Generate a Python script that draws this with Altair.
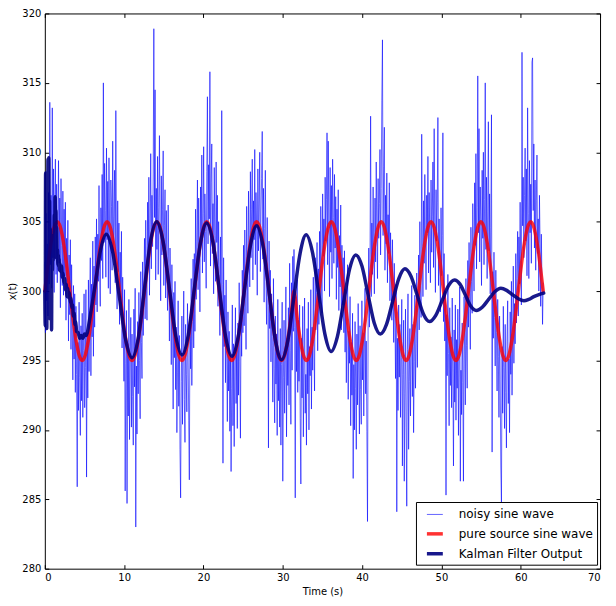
import altair as alt
import numpy as np
import pandas as pd

SERIES = ["noisy sine wave", "pure source sine wave", "Kalman Filter Output"]
X_TICKS = [0, 10, 20, 30, 40, 50, 60, 70]
Y_TICKS = [280, 285, 290, 295, 300, 305, 310, 315, 320]

# noisy samples, evenly spaced over 0 .. 20*pi
noisy_y = [
    302.1, 297.0, 305.6, 299.3, 303.4, 298.2, 307.1, 300.5, 313.6, 301.9,
    306.9, 300.2, 313.2, 302.4, 308.8, 299.9, 306.3, 309.5, 301.2, 307.7,
    300.6, 304.8, 309.4, 302.0, 306.7, 298.8, 308.1, 303.3, 300.4, 307.2,
    299.7, 305.9, 301.1, 306.4, 297.9, 303.8, 300.2, 305.1, 296.4, 302.6,
    298.3, 303.7, 295.8, 301.9, 297.2, 293.6, 300.4, 295.1, 299.8, 292.7,
    298.9, 294.0, 285.9, 296.3, 291.4, 299.2, 293.8, 289.6, 297.5, 292.1,
    298.4, 290.9, 295.7, 299.8, 291.6, 294.5, 300.1, 286.6, 297.0, 292.3,
    300.8, 294.2, 298.6, 302.4, 293.9, 300.5, 296.7, 303.6, 295.3, 301.8,
    297.4, 303.9, 299.0, 305.2, 298.5, 304.1, 300.7, 307.6, 301.3, 298.9,
    306.0, 302.2, 308.4, 300.9, 315.0, 303.5, 309.2, 305.8, 301.0, 310.3,
    303.7, 307.9, 300.2, 309.6, 304.4, 299.8, 308.0, 306.1, 301.5, 310.8,
    302.9, 305.4, 308.7, 300.6, 313.0, 303.1, 298.7, 306.5, 301.4, 304.9,
    297.6, 302.8, 299.1, 304.3, 295.9, 301.0, 297.3, 293.5, 300.1, 285.6,
    294.8, 298.6, 284.7, 296.2, 291.0, 299.4, 289.3, 295.6, 298.1, 290.2,
    296.9, 292.4, 288.9, 298.7, 293.1, 300.2, 283.0, 294.6, 289.7, 297.8,
    292.6, 299.9, 295.0, 290.8, 301.4, 296.3, 293.7, 302.1, 296.8, 300.3,
    303.8, 298.0, 305.1, 300.6, 297.9, 306.4, 302.5, 308.2, 299.7, 304.8,
    309.9, 301.6, 306.9, 303.2, 308.5, 318.9, 305.3, 314.5, 300.8, 307.4,
    303.0, 309.7, 301.2, 306.0, 311.2, 304.1, 299.3, 308.3, 302.6, 305.9,
    310.1, 300.4, 304.7, 307.3, 299.5, 305.8, 302.2, 298.6, 306.2, 301.7,
    296.4, 303.1, 299.6, 294.7, 301.9, 297.8, 291.5, 299.9, 295.2, 300.7,
    292.9, 297.4, 289.8, 294.1, 299.3, 291.7, 296.8, 288.6, 285.1, 293.5,
    298.2, 290.4, 295.3, 300.0, 292.2, 289.1, 297.6, 294.0, 291.3, 299.1,
    295.6, 290.7, 286.4, 298.0, 294.4, 300.9, 293.2, 297.8, 302.3, 295.9,
    302.7, 297.1, 305.9, 299.4, 303.6, 308.0, 300.1, 306.7, 302.8, 298.5,
    307.5, 303.9, 309.8, 301.3, 305.6, 310.4, 302.1, 307.0, 304.3, 300.2,
    308.6, 314.0, 303.4, 309.1, 305.2, 315.8, 301.8, 307.8, 310.6, 302.7,
    306.3, 299.8, 308.9, 304.0, 300.7, 309.3, 303.5, 306.9, 298.9, 305.0,
    301.2, 296.8, 303.9, 298.3, 313.0, 300.5, 287.6, 302.4, 296.0, 299.7,
    293.4, 300.8, 295.7, 290.6, 298.5, 292.8, 297.1, 289.9, 295.4, 287.0,
    293.0, 299.0, 290.3, 296.2, 288.8, 294.6, 298.8, 291.9, 295.8, 290.1,
    297.7, 292.5, 300.6, 294.9, 289.4, 298.1, 295.3, 301.5, 297.0, 303.3,
    297.5, 304.4, 300.9, 295.8, 306.1, 301.7, 298.4, 307.2, 303.0, 300.3,
    308.6, 302.4, 305.9, 309.5, 300.8, 306.5, 303.7, 310.2, 301.9, 307.1,
    304.6, 299.7, 308.8, 302.9, 306.2, 310.0, 301.4, 305.7, 308.1, 311.5,
    302.3, 307.4, 299.2, 304.5, 308.7, 301.0, 297.6, 305.3, 300.5, 288.7,
    303.6, 297.3, 301.5, 294.9, 299.8, 296.1, 292.0, 300.9, 294.4, 290.5,
    298.2, 293.3, 296.9, 289.6, 299.4, 292.1, 295.5, 290.2, 297.3, 288.9,
    294.7, 299.2, 286.3, 293.8, 297.9, 291.2, 295.0, 300.3, 289.5, 296.6,
    293.2, 298.8, 291.8, 302.0, 295.7, 290.4, 300.6, 294.3, 302.5, 297.1,
    303.0, 297.4, 285.1, 299.6, 294.2, 300.8, 292.7, 297.9, 293.5, 299.0,
    290.8, 286.1, 296.6, 292.3, 298.9, 289.5, 295.1, 299.5, 291.2, 294.0,
    288.9, 297.3, 292.6, 299.2, 290.0, 296.0, 293.9, 300.1, 291.5, 297.4,
    294.3, 301.0, 296.0, 292.8, 302.4, 297.2, 299.9, 303.5, 295.7, 301.6,
    297.6, 304.3, 299.1, 306.1, 301.0, 298.4, 307.0, 302.5, 305.2, 300.0,
    308.2, 303.6, 306.6, 311.4, 301.9, 310.8, 304.7, 299.6, 308.9, 302.8,
    307.6, 300.9, 309.5, 305.3, 302.0, 308.4, 303.1, 306.8, 299.4, 305.9,
    301.7, 307.3, 298.6, 304.0, 300.3, 306.2, 297.2, 303.3, 299.0, 302.4,
    297.0, 302.9, 295.6, 300.1, 293.4, 298.7, 301.9, 292.2, 297.1, 294.8,
    299.6, 290.3, 296.3, 292.5, 298.4, 286.5, 294.7, 290.0, 297.8, 293.0,
    288.6, 296.9, 291.8, 299.1, 294.1, 289.7, 297.5, 292.9, 290.4, 299.3,
    293.6, 297.0, 291.0, 295.9, 300.2, 292.6, 296.4, 289.9, 283.4, 298.0,
    303.1, 297.4, 301.8, 312.6, 299.6, 304.9, 301.2, 307.5, 303.0, 299.8,
    306.7, 302.1, 309.3, 304.6, 300.9, 308.1, 303.8, 306.3, 310.2, 302.6,
    307.4, 313.7, 318.1, 304.0, 309.0, 311.8, 301.5, 306.9, 303.4, 308.5,
    300.6, 305.5, 302.7, 307.8, 299.3, 304.2, 301.6, 297.9, 303.7, 300.2,
    296.3, 302.0, 298.0, 293.7, 300.5, 284.1, 296.6, 291.4, 299.0, 293.8,
    297.6, 290.9, 295.2, 299.4, 287.4, 294.0, 297.9, 286.3, 292.6, 298.7,
    290.2, 284.5, 295.8, 299.8, 288.6, 293.5, 297.3, 291.0, 295.7, 300.4,
    292.4, 297.6, 289.8, 294.9, 299.7, 293.0, 296.2, 301.3, 294.5, 298.8,
    302.6, 297.2, 305.0, 300.4, 298.1, 311.3, 303.2, 299.6, 306.5, 302.0,
    308.4, 303.7, 300.1, 306.9, 304.2, 309.7, 301.3, 307.1, 303.9, 300.6,
    308.0, 302.8, 305.4, 309.3, 301.7, 311.7, 304.5, 299.9, 307.3, 303.6,
    306.4, 312.5, 300.4, 305.2, 302.3, 298.5, 306.0, 301.1, 304.0, 311.4,
    297.8, 302.7, 296.4, 300.0, 285.3, 298.3, 293.9, 301.2, 295.5, 290.3,
    298.8, 293.2, 296.7, 291.6, 299.5, 294.1, 287.4, 297.2, 292.0, 299.0,
    290.7, 296.5, 293.0, 298.7, 289.6, 295.2, 300.3, 286.3, 294.3, 291.1,
    297.7, 293.4, 286.3, 299.6, 295.9, 291.8, 300.9, 296.1, 293.0, 302.2,
    297.4, 303.5, 299.6, 295.8, 304.6, 300.7, 298.4, 306.3, 302.5, 300.0,
    307.8, 303.3, 309.9, 301.6, 306.0, 315.5, 304.2, 311.7, 302.1, 307.5,
    305.0, 300.4, 308.7, 303.8, 310.0, 301.9, 306.6, 315.0, 303.0, 308.2,
    300.9, 305.7, 312.2, 302.9, 307.0, 299.8, 304.6, 312.7, 288.4, 301.4,
    296.6, 302.8, 298.1, 294.6, 301.5, 297.0, 292.8, 299.4, 295.3, 290.9,
    298.2, 293.6, 287.4, 284.7, 296.0, 291.2, 298.9, 294.5, 290.1, 297.6,
    292.7, 288.7, 296.4, 299.3, 291.9, 295.1, 289.8, 298.5, 294.0, 300.7,
    292.5, 297.0, 301.8, 294.8, 299.1, 296.2, 302.7, 297.7, 300.9, 304.3,
    298.2, 303.9, 300.5, 306.4, 301.8, 299.0, 317.2, 304.7, 308.2, 302.4,
    306.9, 310.3, 303.6, 308.8, 301.1, 313.2, 305.6, 300.9, 309.4, 304.2,
    307.7, 302.0, 316.5, 316.8, 305.8, 310.6, 303.1, 308.0, 301.5, 306.5,
    309.8, 302.7, 305.2, 300.0, 306.9, 303.4, 298.9, 304.1, 301.0, 297.6,
    300.6,
]

# pure source samples, evenly spaced over 0 .. 20*pi
pure_y = [
    300.0, 301.9, 303.5, 304.6, 305.0, 304.6, 303.5, 301.9, 300.0, 298.1, 296.5, 295.4, 295.0, 295.4, 296.5, 298.1,
    300.0, 301.9, 303.5, 304.6, 305.0, 304.6, 303.5, 301.9, 300.0, 298.1, 296.5, 295.4, 295.0, 295.4, 296.5, 298.1,
    300.0, 301.9, 303.5, 304.6, 305.0, 304.6, 303.5, 301.9, 300.0, 298.1, 296.5, 295.4, 295.0, 295.4, 296.5, 298.1,
    300.0, 301.9, 303.5, 304.6, 305.0, 304.6, 303.5, 301.9, 300.0, 298.1, 296.5, 295.4, 295.0, 295.4, 296.5, 298.1,
    300.0, 301.9, 303.5, 304.6, 305.0, 304.6, 303.5, 301.9, 300.0, 298.1, 296.5, 295.4, 295.0, 295.4, 296.5, 298.1,
    300.0, 298.1, 296.5, 295.4, 295.0, 295.4, 296.5, 298.1, 300.0, 301.9, 303.5, 304.6, 305.0, 304.6, 303.5, 301.9,
    300.0, 298.1, 296.5, 295.4, 295.0, 295.4, 296.5, 298.1, 300.0, 301.9, 303.5, 304.6, 305.0, 304.6, 303.5, 301.9,
    300.0, 298.1, 296.5, 295.4, 295.0, 295.4, 296.5, 298.1, 300.0, 301.9, 303.5, 304.6, 305.0, 304.6, 303.5, 301.9,
    300.0, 298.1, 296.5, 295.4, 295.0, 295.4, 296.5, 298.1, 300.0, 301.9, 303.5, 304.6, 305.0, 304.6, 303.5, 301.9,
    300.0, 298.1, 296.5, 295.4, 295.0, 295.4, 296.5, 298.1, 300.0, 301.9, 303.5, 304.6, 305.0, 304.6, 303.5, 301.9,
    300.0,
]

kalman_t = [
    0.00, 0.05, 0.10, 0.15, 0.20, 0.25, 0.30, 0.35, 0.40, 0.45,
    0.50, 0.55, 0.60, 0.65, 0.70, 0.75, 0.80, 0.85, 0.90, 0.95,
    1.00, 1.05, 1.10, 1.15, 1.20, 1.25, 1.30, 1.35, 1.40, 1.45,
    1.50, 1.55, 1.60, 1.65, 1.70, 1.75, 1.80, 1.85, 1.90, 2.00,
    2.10, 2.20, 2.30, 2.40, 2.50, 2.60, 2.70, 2.80, 2.90, 3.00,
    3.10, 3.20, 3.30, 3.40, 3.50, 3.60, 3.70, 3.80, 3.90, 4.00,
    4.20, 4.40, 4.60, 4.80, 5.00, 5.20, 5.40, 5.61, 6.33, 7.04,
    7.75, 8.56, 9.38, 10.19, 11.0, 11.78, 12.55, 13.33, 14.1, 14.9,
    15.7, 16.5, 17.3, 18.08, 18.85, 19.63, 20.4, 21.2, 22.0, 22.8,
    23.6, 24.38, 25.15, 25.93, 26.7, 27.49, 28.28, 29.06, 29.85, 30.63,
    31.4, 32.18, 32.95, 33.74, 34.53, 35.31, 36.1, 36.88, 37.65, 38.43,
    39.2, 39.98, 40.75, 41.53, 42.3, 43.08, 43.85, 44.63, 45.4, 46.18,
    46.95, 47.73, 48.5, 49.29, 50.08, 50.86, 51.65, 52.34, 53.03, 53.71,
    54.4, 55.18, 55.95, 56.73, 57.5, 58.23, 58.95, 59.68, 60.4, 61.0,
    61.65, 62.3, 62.9,
]
kalman_y = [
    300.0, 297.5, 308.5, 298.5, 306.0, 297.3, 305.0, 299.0, 309.5, 300.5,
    309.6, 301.0, 306.5, 298.0, 304.5, 300.0, 303.5, 297.2, 303.8, 301.5,
    304.0, 302.2, 303.6, 302.5, 305.5, 302.8, 306.8, 303.0, 305.8, 302.4,
    304.6, 302.6, 303.0, 301.9, 302.6, 301.8, 302.3, 301.5, 302.0, 301.4,
    301.8, 301.0, 301.3, 300.6, 300.9, 300.1, 300.5, 299.6, 300.2, 299.5,
    299.9, 299.2, 299.5, 298.8, 299.0, 298.2, 298.4, 297.6, 297.8, 297.1,
    297.0, 296.6, 296.8, 296.6, 296.9, 296.8, 297.1, 297.8, 300.4, 303.0,
    304.1, 302.8, 299.65, 296.5, 295.2, 296.6, 300.1, 303.6, 305.0, 303.6,
    300.2, 296.8, 295.4, 296.8, 300.15, 303.5, 304.9, 303.5, 300.1, 296.7,
    295.3, 296.7, 300.0, 303.3, 304.7, 303.3, 299.9, 296.5, 295.05, 296.4,
    299.55, 302.7, 304.05, 302.8, 299.85, 296.9, 295.65, 296.7, 299.1, 301.6,
    302.6, 301.8, 299.75, 297.7, 296.9, 297.6, 299.25, 300.9, 301.6, 301.05,
    299.7, 298.35, 297.8, 298.25, 299.3, 300.35, 300.8, 300.5, 299.7, 298.9,
    298.6, 298.85, 299.4, 299.95, 300.2, 300.05, 299.75, 299.45, 299.3, 299.4,
    299.6, 299.75, 299.85,
]

T_END = 20 * np.pi
noisy_df = pd.DataFrame({"t": np.linspace(0, T_END, len(noisy_y)), "v": noisy_y, "series": SERIES[0]})
pure_df = pd.DataFrame({"t": np.linspace(0, T_END, len(pure_y)), "v": pure_y, "series": SERIES[1]})
kal_df = pd.DataFrame({"t": kalman_t, "v": kalman_y, "series": SERIES[2]})

xscale = alt.Scale(domain=[0, 70], nice=False, zero=False)
yscale = alt.Scale(domain=[280, 320], nice=False, zero=False)

color = alt.Color(
    "series:N",
    scale=alt.Scale(domain=SERIES, range=["#0000ff", "#ff0000", "#000080"]),
    legend=alt.Legend(
        title=None, orient="none", legendX=373, legendY=491,
        strokeColor="black", fillColor="white", padding=4, cornerRadius=0,
        labelFontSize=12, labelFont="DejaVu Sans", labelColor="black",
        symbolSize=256, symbolType="stroke", rowPadding=3, labelOffset=14,
        symbolOffset=5,
    ),
)
opacity = alt.Opacity("series:N", scale=alt.Scale(type="ordinal", domain=SERIES, range=[0.6, 0.8, 0.9]))
swidth = alt.StrokeWidth("series:N", scale=alt.Scale(type="ordinal", domain=SERIES, range=[1, 3.5, 3.5]))

tick_common = dict(labels=False, domain=False, grid=False, tickSize=4, tickColor="black",
                   tickWidth=1, title=None, offset=-4)

noisy = alt.Chart(noisy_df).mark_line(strokeJoin="round").encode(
    x=alt.X("t:Q", scale=xscale, axis=alt.Axis(
        values=X_TICKS, tickSize=0, domain=False, grid=False, labelPadding=4,
        labelFontSize=10, labelFont="DejaVu Sans", labelColor="black",
        title="Time (s)", titleFontSize=10, titleFont="DejaVu Sans",
        titleFontWeight="normal", titleColor="black", titlePadding=4, orient="bottom")),
    y=alt.Y("v:Q", scale=yscale, axis=alt.Axis(
        values=Y_TICKS, tickSize=0, domain=False, grid=False, labelPadding=4,
        labelFontSize=10, labelFont="DejaVu Sans", labelColor="black",
        title="x(t)", titleFontSize=10, titleFont="DejaVu Sans",
        titleFontWeight="normal", titleColor="black", titlePadding=4, orient="left")),
    color=color, opacity=opacity, strokeWidth=swidth,
)

pure = alt.Chart(pure_df).mark_line(interpolate="monotone", strokeJoin="round", strokeCap="round").encode(
    x=alt.X("t:Q", scale=xscale, axis=alt.Axis(values=X_TICKS, orient="bottom", **tick_common)),
    y=alt.Y("v:Q", scale=yscale, axis=alt.Axis(values=Y_TICKS, orient="left", **tick_common)),
    color=color, opacity=opacity, strokeWidth=swidth,
)

kal = alt.Chart(kal_df).mark_line(interpolate="monotone", strokeJoin="round", strokeCap="round").encode(
    x=alt.X("t:Q", scale=xscale, axis=alt.Axis(values=X_TICKS, orient="top", **tick_common)),
    y=alt.Y("v:Q", scale=yscale, axis=alt.Axis(values=Y_TICKS, orient="right", **tick_common)),
    color=color, opacity=opacity, strokeWidth=swidth,
)

chart = alt.layer(noisy, pure, kal).resolve_axis(x="independent", y="independent").properties(
    width=558, height=558,
    padding={"left": 37, "top": 4, "right": 8, "bottom": 32},
    autosize=alt.AutoSizeParams(type="none"),
    background="white",
).configure_view(stroke="black", strokeWidth=1)

chart.save("out.html", embed_options={"renderer": "svg", "actions": False})
